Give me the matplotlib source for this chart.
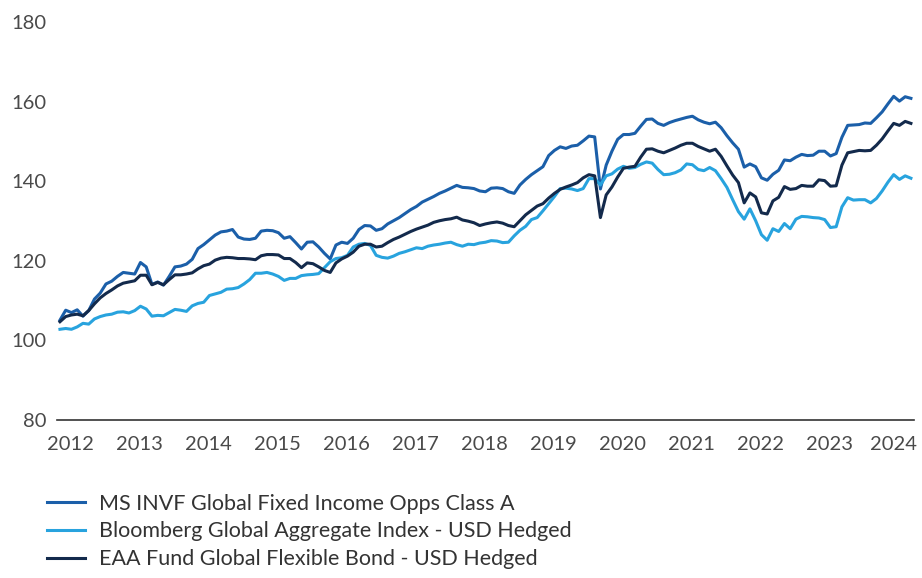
import matplotlib
matplotlib.use("Agg")
import matplotlib.pyplot as plt

# monthly index values
ms_invf = [
    105.0, 107.5, 106.9, 107.6, 106.0, 107.4, 110.3, 111.8, 114.1, 114.8, 116.0, 117.0, 116.8,
    116.6, 119.5, 118.4, 114.0, 114.6, 113.8, 116.0, 118.4, 118.6, 119.1, 120.3, 123.0, 124.0,
    125.2, 126.4, 127.2, 127.4, 127.8, 125.9, 125.4, 125.3, 125.6, 127.4, 127.6, 127.5, 127.0,
    125.6, 126.0, 124.5, 122.9, 124.6, 124.7, 123.4, 121.8, 120.4, 123.9,
    124.6, 124.3, 125.6, 127.8, 128.8, 128.7, 127.6, 128.0, 129.2, 130.0, 130.8, 131.8, 132.8,
    133.6, 134.7, 135.4, 136.1, 136.9, 137.5, 138.2, 138.9, 138.4, 138.3, 138.1, 137.5,
    137.3, 138.2, 138.3, 138.1, 137.3, 136.9, 139.0, 140.4, 141.6, 142.6, 143.6, 146.4, 147.7,
    148.6, 148.2, 148.8, 149.0, 150.1, 151.3, 151.1, 138.0, 144.0, 147.5, 150.5, 151.7,
    151.7, 152.0, 153.8, 155.5, 155.6, 154.5, 154.0, 154.7, 155.2, 155.6, 156.0, 156.3, 155.4,
    154.8, 154.4, 154.8, 153.4, 151.4, 149.6, 148.0, 143.5, 144.3, 143.6, 140.8,
    140.2, 141.7, 142.7, 145.3, 145.1, 146.0, 146.7, 146.4, 146.5, 147.5, 147.5, 146.3, 146.9,
    151.0, 154.0, 154.1, 154.2, 154.6, 154.5, 155.9, 157.4, 159.4, 161.3, 160.1, 161.2, 160.8,
]
bloomberg = [
    102.7, 102.9, 102.7, 103.3, 104.2, 104.0, 105.3, 105.9, 106.3, 106.5, 107.0, 107.1, 106.8,
    107.4, 108.5, 107.8, 106.0, 106.2, 106.1, 106.9, 107.7, 107.5, 107.2, 108.6, 109.2, 109.5,
    111.2, 111.6, 112.0, 112.8, 112.9, 113.2, 114.1, 115.2, 116.8, 116.8, 117.0, 116.6, 116.0,
    115.0, 115.5, 115.5, 116.2, 116.4, 116.5, 116.7, 118.2, 119.7, 120.5,
    120.7, 121.3, 123.4, 124.1, 124.3, 123.8, 121.3, 120.8, 120.6, 121.1, 121.8, 122.2, 122.7,
    123.2, 123.0, 123.6, 123.9, 124.1, 124.4, 124.6, 124.0, 123.6, 124.1, 124.0, 124.4,
    124.6, 125.0, 124.9, 124.5, 124.6, 126.2, 127.6, 128.6, 130.3, 130.8, 132.5, 134.3, 136.1,
    138.1, 138.2, 138.0, 137.6, 138.1, 140.6, 140.6, 139.0, 141.3, 141.8, 143.0, 143.7,
    143.2, 143.4, 144.2, 144.8, 144.5, 142.9, 141.6, 141.7, 142.1, 142.8, 144.3, 144.1, 142.9,
    142.6, 143.4, 142.6, 140.6, 138.4, 135.3, 132.3, 130.4, 133.0, 130.0, 126.5,
    125.1, 128.0, 127.3, 129.3, 128.0, 130.4, 131.1, 131.0, 130.8, 130.7, 130.3, 128.3, 128.5,
    133.5, 135.8, 135.2, 135.3, 135.3, 134.5, 135.6, 137.5, 139.7, 141.6, 140.4, 141.3, 140.7,
]
eaa_flexible = [
    104.6, 105.9, 106.3, 106.5, 106.1, 107.4, 109.1, 110.6, 111.7, 112.6, 113.6, 114.3, 114.6,
    114.9, 116.3, 116.3, 113.9, 114.5, 113.9, 115.2, 116.4, 116.4, 116.6, 116.9, 117.9, 118.7,
    119.1, 120.1, 120.6, 120.8, 120.7, 120.5, 120.5, 120.4, 120.2, 121.2, 121.5, 121.5, 121.4,
    120.5, 120.5, 119.5, 118.2, 119.4, 119.2, 118.4, 117.5, 117.0, 119.4,
    120.4, 121.1, 122.1, 123.6, 124.1, 124.1, 123.4, 123.6, 124.5, 125.3, 125.9, 126.6, 127.3,
    127.9, 128.4, 128.9, 129.6, 130.0, 130.3, 130.5, 130.9, 130.2, 129.9, 129.5, 128.8,
    129.2, 129.5, 129.7, 129.4, 128.8, 128.5, 130.0, 131.5, 132.6, 133.7, 134.3, 135.7, 136.9,
    137.9, 138.5, 139.0, 139.6, 140.8, 141.6, 141.3, 130.8, 136.5, 138.5, 141.0, 143.2,
    143.5, 143.7, 146.0, 148.0, 148.1, 147.5, 147.1, 147.7, 148.3, 149.0, 149.5, 149.5, 148.7,
    148.1, 147.5, 148.0, 146.2, 143.8, 141.5, 139.6, 134.5, 137.0, 136.0, 132.0,
    131.7, 135.0, 135.9, 138.6, 137.9, 138.1, 138.9, 138.7, 138.7, 140.3, 140.1, 138.7, 138.8,
    144.0, 147.1, 147.4, 147.7, 147.6, 147.7, 149.0, 150.6, 152.6, 154.5, 154.0, 155.0, 154.5,
]
series_labels = [
    "MS INVF Global Fixed Income Opps Class A",
    "Bloomberg Global Aggregate Index - USD Hedged",
    "EAA Fund Global Flexible Bond - USD Hedged",
]
series_colors = ["#1b5fa9", "#28a3de", "#132a4c"]
year_labels = [str(y) for y in range(2012, 2025)]

plt.rcParams["font.family"] = ["Lato", "DejaVu Sans"]

fig = plt.figure(figsize=(9.22, 5.78), dpi=100)
ax = fig.add_axes([0.0621, 0.2742, 0.929, 0.6877])

months = list(range(len(ms_invf)))
for values, label, color in zip([ms_invf, bloomberg, eaa_flexible], series_labels, series_colors):
    ax.plot(months, values, color=color, lw=2.2, label=label, solid_joinstyle="round")

ax.set_xlim(-0.47, 148.5)
ax.set_ylim(80, 180)
ax.set_yticks(range(80, 181, 20))

tick_pos = [1.9 + 12 * k for k in range(len(year_labels))]
tick_pos[-1] = 144.9
ax.set_xticks(tick_pos)
ax.set_xticklabels(year_labels)

for side in ["top", "right", "left"]:
    ax.spines[side].set_visible(False)
ax.spines["bottom"].set_color("#333333")
ax.spines["bottom"].set_linewidth(1.2)
ax.tick_params(axis="both", length=0, labelsize=14.5, labelcolor="#4a4a4a")
ax.tick_params(axis="x", pad=12)
ax.tick_params(axis="y", pad=8)

ax.legend(loc="upper left", bbox_to_anchor=(0.051, 0.146), bbox_transform=fig.transFigure,
          frameon=False, fontsize=15.5, handlelength=1.77, handletextpad=0.65,
          labelspacing=0.36, borderpad=0, borderaxespad=0, labelcolor="#333333")

fig.savefig("out.png", dpi=100)
